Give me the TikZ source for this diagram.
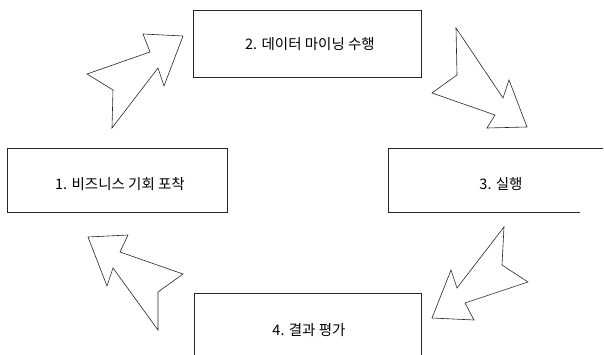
\documentclass[tikz,border=0pt]{standalone}
\usepackage{fontspec}
\setmainfont{Noto Sans CJK KR}
\begin{document}
\begin{tikzpicture}[x=1pt,y=-1pt,
  boxline/.style={draw=black!85,line width=0.7pt},
  blockarrow/.style={draw=black!85,line width=0.6pt,line join=miter,fill=white},
  label/.style={font=\fontsize{14.5}{17}\selectfont,inner sep=0pt}]
\useasboundingbox (0,0) rectangle (604,355);
% boxes
\draw[boxline] (193,10) rectangle (421,77);
\draw[boxline] (7,148) rectangle (227,212);
\draw[boxline] (603,148) -- (388,148) -- (388,212) -- (580,212);
\draw[boxline] (194,355) -- (194,293) -- (421,293) -- (421,355);
% labels
\node[label] (t2) at (310,44) {2. 데이터 마이닝 수행};
\node[label] (t1) at (120,184) {1. 비즈니스 기회 포착};
\node[label] (t3) at (501,184) {3. 실행};
\node[label] (t4) at (309,330) {4. 결과 평가};
% block arrows
\draw[blockarrow] (112,128) -- (113,90) -- (87,74) -- (150,52) -- (143,34) -- (183,36) -- (164,86) -- (158,68) -- cycle;
\draw[blockarrow] (456,28) -- (457,75) -- (432,93) -- (495,115) -- (487,128) -- (527,127) -- (509,80) -- (503,98) -- cycle;
\draw[blockarrow] (504,227) -- (502,265) -- (528,282) -- (465,303) -- (474,320) -- (432,318) -- (451,270) -- (457,288) -- cycle;
\draw[blockarrow] (158,330) -- (158,292) -- (183,274) -- (120,252) -- (128,235) -- (88,237) -- (107,286) -- (113,268) -- cycle;
\end{tikzpicture}
\end{document}
